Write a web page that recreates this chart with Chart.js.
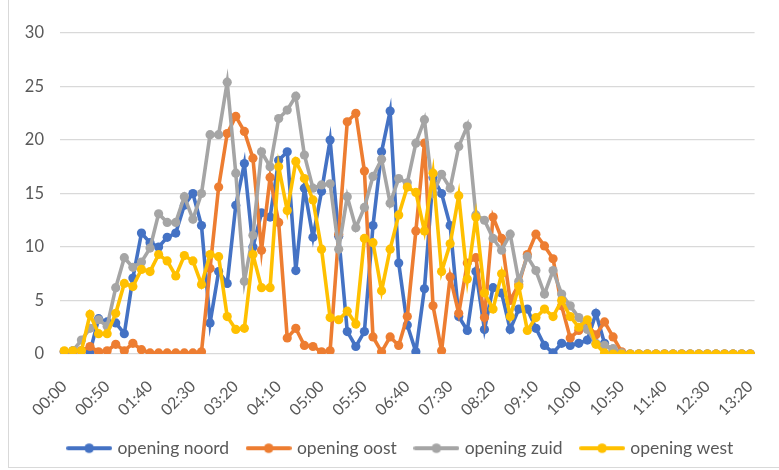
<!DOCTYPE html>
<html>
<head>
<meta charset="utf-8">
<script src="https://cdn.jsdelivr.net/npm/chart.js@4.4.1/dist/chart.umd.min.js"></script>
<style>
  html, body { margin: 0; padding: 0; background: #fff; }
  #wrap { position: relative; width: 779px; height: 470px; overflow: hidden; }
  #frame { position: absolute; left: 8px; top: -2px; width: 790px; height: 470px; border: 1px solid #d9d9d9; box-sizing: border-box; }
  canvas { position: absolute; left: 0; top: 0; }
</style>
</head>
<body>
<div id="wrap">
  <div id="frame"></div>
  <canvas id="chart" width="779" height="470"></canvas>
</div>
<script>
// tijdstippen (elke 10 minuten)
const tijden = [
  "00:00","00:10","00:20","00:30","00:40","00:50","01:00","01:10","01:20","01:30",
  "01:40","01:50","02:00","02:10","02:20","02:30","02:40","02:50","03:00","03:10",
  "03:20","03:30","03:40","03:50","04:00","04:10","04:20","04:30","04:40","04:50",
  "05:00","05:10","05:20","05:30","05:40","05:50","06:00","06:10","06:20","06:30",
  "06:40","06:50","07:00","07:10","07:20","07:30","07:40","07:50","08:00","08:10",
  "08:20","08:30","08:40","08:50","09:00","09:10","09:20","09:30","09:40","09:50",
  "10:00","10:10","10:20","10:30","10:40","10:50","11:00","11:10","11:20","11:30",
  "11:40","11:50","12:00","12:10","12:20","12:30","12:40","12:50","13:00","13:10",
  "13:20"
];

const noord = [
  0.2, 0.3, 0.3, 0.2, 3.3, 3.0, 2.9, 1.9, 7.1, 11.3,
  10.4, 10.0, 10.9, 11.3, 13.9, 15.0, 12.0, 2.9, 7.7, 6.6,
  13.9, 17.8, 10.0, 13.2, 12.8, 18.1, 18.9, 7.8, 15.5, 10.9,
  15.2, 20.0, 11.0, 2.1, 0.7, 2.1, 12.0, 18.9, 22.7, 8.5,
  2.7, 0.2, 6.1, 16.5, 15.0, 12.0, 3.5, 2.2, 7.7, 2.3,
  6.2, 5.7, 2.3, 4.2, 4.2, 2.4, 0.8, 0.1, 1.0, 0.8,
  1.0, 1.3, 3.8, 1.0, 0.3, 0, 0, 0, 0, 0,
  0, 0, 0, 0, 0, 0, 0, 0, 0, 0,
  0
];

const oost = [
  0.2, 0.2, 0.3, 0.7, 0.2, 0.3, 0.9, 0.3, 1.0, 0.4,
  0.1, 0.1, 0.1, 0.1, 0.1, 0.1, 0.2, 8.0, 15.6, 20.6,
  22.2, 20.8, 18.3, 9.7, 16.5, 12.3, 1.5, 2.4, 0.8, 0.7,
  0.2, 0.3, 11.2, 21.7, 22.5, 17.1, 1.6, 0.2, 1.6, 0.8,
  3.5, 11.5, 19.7, 4.5, 0.3, 7.2, 3.8, 8.5, 9.0, 3.4,
  12.8, 10.8, 5.0, 6.5, 9.3, 11.2, 10.1, 8.9, 4.5, 1.5,
  2.2, 2.7, 1.8, 3.0, 1.6, 0.2, 0, 0, 0, 0,
  0, 0, 0, 0, 0, 0, 0, 0, 0, 0,
  0
];

const zuid = [
  0.2, 0.3, 1.3, 2.4, 3.2, 2.6, 6.2, 9.0, 8.1, 8.6,
  9.9, 13.1, 12.3, 12.3, 14.7, 12.6, 15.0, 20.5, 20.5, 25.4,
  16.9, 6.8, 11.1, 18.9, 17.5, 22.0, 22.8, 24.1, 18.6, 15.5,
  15.8, 15.9, 9.8, 14.7, 11.8, 13.7, 16.6, 18.2, 14.1, 16.4,
  16.0, 19.7, 21.9, 15.0, 16.8, 15.5, 19.4, 21.3, 13.0, 12.5,
  10.8, 9.7, 11.2, 6.8, 9.1, 7.8, 5.6, 7.8, 5.6, 4.5,
  3.4, 2.3, 1.0, 0.8, 0.5, 0.1, 0, 0, 0, 0,
  0, 0, 0, 0, 0, 0, 0, 0, 0, 0,
  0
];

const west = [
  0.3, 0.3, 0.3, 3.7, 1.9, 1.9, 3.8, 6.6, 6.3, 7.9,
  7.7, 9.3, 8.7, 7.3, 9.2, 8.7, 6.5, 9.3, 9.1, 3.5,
  2.3, 2.4, 9.3, 6.2, 6.2, 17.5, 13.4, 18.0, 16.4, 14.4,
  9.8, 3.4, 3.2, 4.0, 2.8, 10.8, 10.4, 5.9, 9.8, 13.0,
  15.6, 15.1, 11.5, 16.9, 7.7, 10.3, 14.8, 7.0, 12.8, 5.7,
  4.2, 7.5, 3.5, 6.3, 2.2, 3.4, 4.2, 3.5, 5.0, 3.5,
  2.5, 3.2, 0.9, 0.1, 0, 0, 0, 0, 0, 0,
  0, 0, 0, 0, 0, 0, 0, 0, 0, 0,
  0
];

const reeksNamen = ["opening noord", "opening oost", "opening zuid", "opening west"];
const kleuren = ["#4472C4", "#ED7D31", "#A5A5A5", "#FFC000"];
const reeksen = [noord, oost, zuid, west];

const fontFam = "Lato, 'Open Sans', sans-serif";
const tekstKleur = "#595959";

// legend marker: lijn met bolletje
function maakMarker(kleur) {
  const c = document.createElement("canvas");
  c.width = 46;
  c.height = 12;
  const ctx = c.getContext("2d");
  ctx.strokeStyle = kleur;
  ctx.lineWidth = 4;
  ctx.lineCap = "round";
  ctx.beginPath();
  ctx.moveTo(2, 6);
  ctx.lineTo(44, 6);
  ctx.stroke();
  ctx.fillStyle = kleur;
  ctx.beginPath();
  ctx.arc(23, 6, 4.8, 0, Math.PI * 2);
  ctx.fill();
  return c;
}
const markers = kleuren.map(maakMarker);

// legenda iets naar rechts, zoals in Excel
const legendaVerschuiving = {
  id: "legendaVerschuiving",
  afterLayout(chart) {
    if (chart.legend) {
      chart.legend.left += 19;
      chart.legend.right += 19;
    }
  },
};

const datasets = reeksen.map((reeks, i) => ({
  label: reeksNamen[i],
  data: reeks,
  borderColor: kleuren[i],
  backgroundColor: kleuren[i],
  borderWidth: 3.6,
  pointRadius: 4.6,
  pointBorderWidth: 0,
  pointBackgroundColor: kleuren[i],
  tension: 0,
  order: 4 - i, // west bovenop
}));

new Chart(document.getElementById("chart"), {
  type: "line",
  data: { labels: tijden, datasets: datasets },
  plugins: [legendaVerschuiving],
  options: {
    responsive: false,
    animation: false,
    devicePixelRatio: 1,
    layout: { padding: { left: 8, right: 22, top: 33, bottom: 3 } },
    plugins: {
      tooltip: { enabled: false },
      legend: {
        position: "bottom",
        labels: {
          color: tekstKleur,
          font: { family: fontFam, size: 17.5 },
          usePointStyle: true,
          pointStyleWidth: 39,
          padding: 20,
          generateLabels: (chart) =>
            chart.data.datasets.map((ds, i) => ({
              text: ds.label,
              fillStyle: ds.borderColor,
              strokeStyle: ds.borderColor,
              fontColor: tekstKleur,
              lineWidth: 0,
              pointStyle: markers[i],
              hidden: false,
              datasetIndex: i,
            })),
        },
      },
    },
    scales: {
      x: {
        offset: true,
        grid: { display: false },
        border: { display: false },
        ticks: {
          autoSkip: false,
          maxRotation: 45,
          minRotation: 45,
          padding: 15,
          color: tekstKleur,
          font: { family: fontFam, size: 16 },
          callback: function (val, idx) {
            return idx % 5 === 0 ? this.getLabelForValue(val) : null;
          },
        },
        afterFit: (s) => { s.height = 65.5; },
      },
      y: {
        min: 0,
        max: 30,
        border: { display: false },
        grid: { color: "#d9d9d9", lineWidth: 1.3, drawTicks: false },
        ticks: {
          stepSize: 5,
          padding: 16,
          color: tekstKleur,
          font: { family: fontFam, size: 16.5 },
        },
        afterFit: (s) => { s.width = 52; },
      },
    },
  },
});
</script>
</body>
</html>
